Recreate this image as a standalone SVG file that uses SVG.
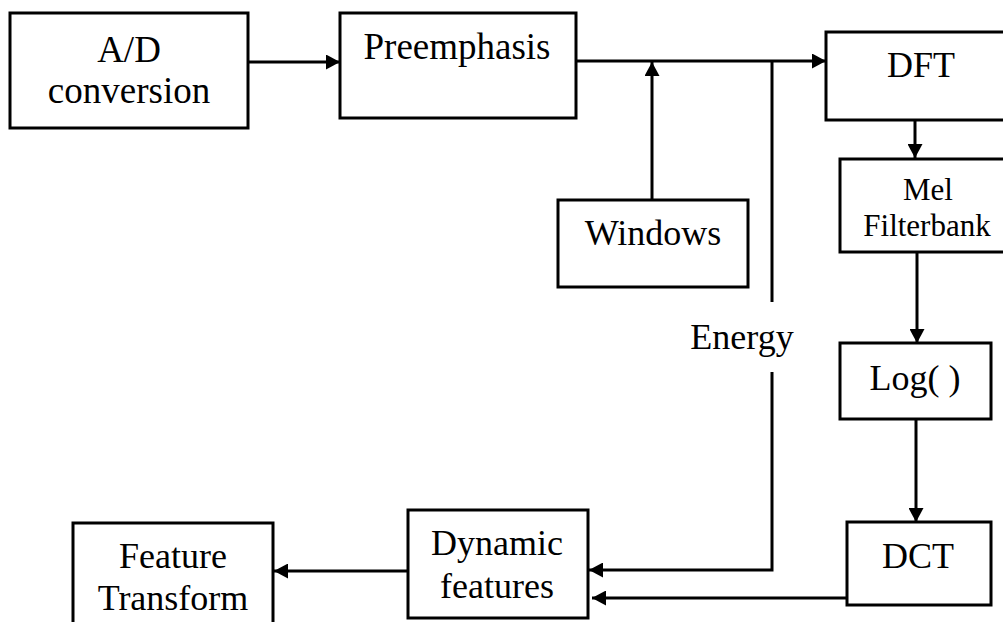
<svg xmlns="http://www.w3.org/2000/svg" width="1003" height="622" viewBox="0 0 1003 622">
<style>
.box{fill:#fff;stroke:#000;stroke-width:3}
.t{font-family:"Liberation Serif","Times New Roman",serif;font-size:36px;fill:#000;text-anchor:middle}
.s{font-size:31px}
.c{fill:none;stroke:#000;stroke-width:3}
</style>
<defs>
<marker id="ah" markerUnits="userSpaceOnUse" markerWidth="14" markerHeight="15" refX="14" refY="7.5" orient="auto">
<path d="M0,0 L14,7.5 L0,15 z" fill="#000"/>
</marker>
</defs>
<rect width="1003" height="622" fill="#fff"/>
<g id="connectors">
<line class="c" x1="248" y1="62" x2="340" y2="62" marker-end="url(#ah)"/>
<line class="c" x1="576" y1="61" x2="826" y2="61" marker-end="url(#ah)"/>
<line class="c" x1="652" y1="200" x2="652" y2="62" marker-end="url(#ah)"/>
<line class="c" x1="772" y1="60" x2="772" y2="302"/>
<polyline class="c" points="772,372 772,570 589,570" marker-end="url(#ah)"/>
<line class="c" x1="915" y1="120" x2="915" y2="158" marker-end="url(#ah)"/>
<line class="c" x1="917" y1="252" x2="917" y2="343" marker-end="url(#ah)"/>
<line class="c" x1="916" y1="419" x2="916" y2="522" marker-end="url(#ah)"/>
<line class="c" x1="847" y1="598" x2="592" y2="598" marker-end="url(#ah)"/>
<line class="c" x1="408" y1="571" x2="274" y2="571" marker-end="url(#ah)"/>
</g>
<g id="ad">
<rect class="box" x="10" y="13" width="238" height="115"/>
<text class="t" x="129" y="61.5" style="font-size:37px">A/D</text>
<text class="t" x="129" y="102.5" style="font-size:37px">conversion</text>
</g>
<g id="preemphasis">
<rect class="box" x="340" y="13" width="236" height="105"/>
<text class="t" x="457" y="59" style="font-size:37px">Preemphasis</text>
</g>
<g id="windows">
<rect class="box" x="558" y="200" width="190" height="87"/>
<text class="t" x="653" y="245">Windows</text>
</g>
<g id="energy">
<text class="t" x="742" y="349">Energy</text>
</g>
<g id="dft">
<rect class="box" x="826" y="32" width="190" height="88"/>
<text class="t" x="921" y="77">DFT</text>
</g>
<g id="mel">
<rect class="box" x="840" y="159" width="180" height="93"/>
<text class="t s" x="928" y="200">Mel</text>
<text class="t s" x="927" y="236">Filterbank</text>
</g>
<g id="log">
<rect class="box" x="840" y="343" width="151" height="76"/>
<text class="t" x="915" y="390">Log( )</text>
</g>
<g id="dct">
<rect class="box" x="847" y="522" width="144" height="83"/>
<text class="t" x="918" y="568">DCT</text>
</g>
<g id="dynamic">
<rect class="box" x="408" y="510" width="180" height="108"/>
<text class="t" x="497" y="555">Dynamic</text>
<text class="t" x="497" y="598">features</text>
</g>
<g id="feature">
<rect class="box" x="73" y="523" width="200" height="110"/>
<text class="t" x="173" y="568">Feature</text>
<text class="t" x="173" y="610">Transform</text>
</g>
</svg>
